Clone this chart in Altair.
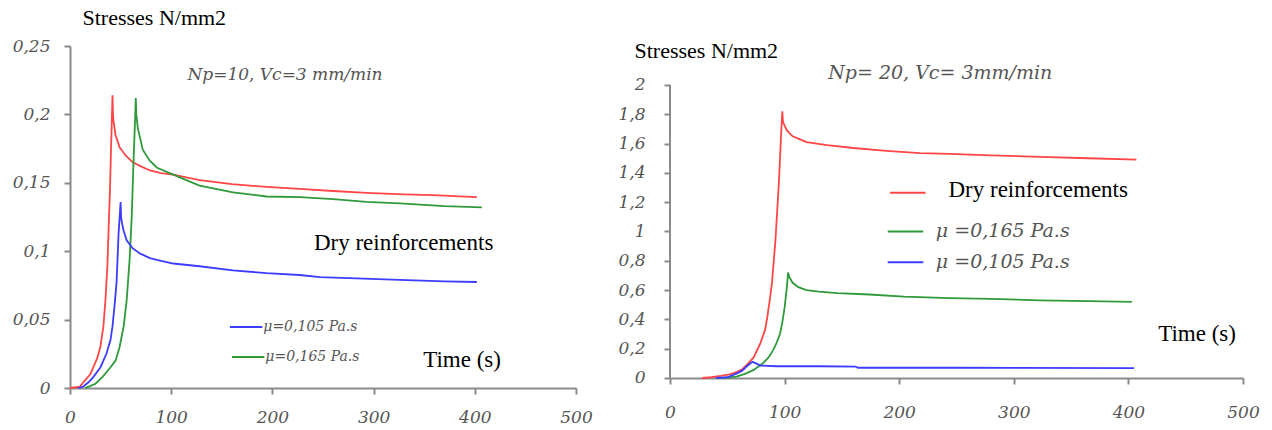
import altair as alt
import pandas as pd

# ---------------- Left panel (Np=10) ----------------
L_red_t = [0, 10, 13, 20, 23, 27, 30, 33, 35, 37, 38, 39.5, 40.5, 41.5, 42, 42.5, 43, 45, 49, 55, 62, 70, 79, 90, 102, 128, 160, 194, 227, 260, 293, 330, 359, 380, 402]
L_red_v = [0, 0.001, 0.004, 0.01, 0.015, 0.022, 0.030, 0.045, 0.064, 0.09, 0.113, 0.145, 0.174, 0.2, 0.214, 0.2, 0.195, 0.185, 0.176, 0.170, 0.165, 0.162, 0.159, 0.157, 0.156, 0.152, 0.149, 0.147, 0.1455, 0.144, 0.1426, 0.1415, 0.141, 0.1403, 0.1396]

L_blue_t = [8, 13, 18, 23, 30, 36, 40, 42, 44, 46, 48, 49.5, 50, 50.5, 51, 53, 56, 62, 70, 79, 90, 102, 128, 161, 194, 227, 247, 290, 326, 370, 402]
L_blue_v = [0, 0.001, 0.004, 0.008, 0.015, 0.025, 0.035, 0.045, 0.06, 0.077, 0.113, 0.13, 0.136, 0.125, 0.122, 0.115, 0.108, 0.102, 0.098, 0.095, 0.093, 0.091, 0.089, 0.086, 0.084, 0.0826, 0.081, 0.080, 0.079, 0.078, 0.0775]

L_green_t = [15, 25, 32, 39.5, 45, 49, 53, 56, 59, 61, 62.5, 64, 65, 65.5, 67, 72, 79, 86, 102, 128, 161, 194, 227, 260, 293, 326, 370, 407]
L_green_v = [0, 0.003, 0.008, 0.0146, 0.02, 0.030, 0.045, 0.064, 0.095, 0.125, 0.16, 0.19, 0.212, 0.2, 0.19, 0.174, 0.166, 0.161, 0.156, 0.148, 0.143, 0.140, 0.1395, 0.138, 0.136, 0.135, 0.133, 0.132]

# ---------------- Right panel (Np=20) ----------------
R_red_t = [28, 36, 44, 52, 58, 63, 67, 73, 79, 83, 85, 87, 89, 92, 95, 97, 98, 98.5, 99, 102, 107, 113, 119, 137, 160, 189, 218, 244, 280, 323, 365, 407]
R_red_v = [0, 0.005, 0.014, 0.025, 0.04, 0.06, 0.09, 0.14, 0.24, 0.33, 0.42, 0.53, 0.65, 0.94, 1.33, 1.67, 1.82, 1.76, 1.74, 1.69, 1.65, 1.63, 1.61, 1.59, 1.57, 1.55, 1.535, 1.53, 1.52, 1.51, 1.50, 1.49]

R_green_t = [40, 50, 58, 66, 73, 81, 86, 90, 93, 96, 98, 100, 102, 103, 104, 107, 112, 119, 130, 146, 174, 204, 244, 280, 323, 365, 403]
R_green_v = [0, 0.003, 0.01, 0.03, 0.055, 0.1, 0.14, 0.19, 0.24, 0.3, 0.38, 0.48, 0.62, 0.72, 0.69, 0.65, 0.62, 0.60, 0.59, 0.58, 0.57, 0.555, 0.545, 0.54, 0.53, 0.525, 0.52]

R_blue_t = [40, 50, 58, 63, 67, 72, 75, 79, 93, 130, 162, 164, 250, 405]
R_blue_v = [0, 0.005, 0.03, 0.05, 0.08, 0.11, 0.10, 0.085, 0.08, 0.08, 0.078, 0.07, 0.07, 0.068]

SERIES = ["Dry reinforcements", "mu=0,165", "mu=0,105"]
COLORS = ["#ff4646", "#2e9a3a", "#3c3cff"]

# axis ticks
L_yticks = [0, 0.05, 0.1, 0.15, 0.2, 0.25]
R_yticks = [0, 0.2, 0.4, 0.6, 0.8, 1, 1.2, 1.4, 1.6, 1.8, 2]
X_ticks = [0, 100, 200, 300, 400, 500]
R_ydomain = [-0.0683, 2.2662]
R_yline = [0, 2]

# annotations (data coordinates)
L_note_big_x = [241, 349]
L_note_big_y = [0.106, 0.0205]
L_note_big_txt = ["Dry reinforcements", "Time (s)"]

L_sub_x = [116]
L_sub_y = [0.229]
L_sub_txt = ["Np=10, Vc=3 mm/min"]

L_leg_x1 = [158, 160]
L_leg_x2 = [190, 192]
L_leg_y = [0.0446, 0.0227]
L_leg_s = ["mu=0,105", "mu=0,165"]
L_leg_tx = [191, 193]
L_leg_txt = ["\u03bc=0,105 Pa.s", "\u03bc=0,165 Pa.s"]

R_note_x = [426]
R_note_y = [0.30]
R_note_txt = ["Time (s)"]

R_sub_x = [138]
R_sub_y = [2.08]
R_sub_txt = ["Np= 20, Vc= 3mm/min"]

R_leg_x1 = [192, 190, 190]
R_leg_x2 = [223, 221, 221]
R_leg_y = [1.265, 1.0, 0.79]
R_leg_s = ["Dry reinforcements", "mu=0,165", "mu=0,105"]
R_leg_dry_x = [243]
R_leg_dry_y = [1.283]
R_leg_dry_txt = ["Dry reinforcements"]
R_leg_mu_x = [232, 232]
R_leg_mu_y = [1.0, 0.79]
R_leg_mu_txt = ["\u03bc =0,165 Pa.s", "\u03bc =0,105 Pa.s"]

SERIF = "Liberation Serif"
ITAL = "DejaVu Serif"
GRAY = "#555555"
AXGRAY = "#8a8a8a"

color_scale = alt.Scale(domain=SERIES, range=COLORS)


def lines_df(parts):
    frames = []
    for ts, vs, name in parts:
        frames.append(pd.DataFrame({"t": ts, "v": vs, "s": name}))
    return pd.concat(frames, ignore_index=True)


def make_axes(yticks, ytitle_x, ytitle_y, xpad, ypad, xoffset, ydomain_line):
    xa = alt.Axis(values=X_ticks, title=None, grid=False, labelFont=ITAL, labelFontStyle="italic",
                  labelFontSize=17, labelColor=GRAY, labelPadding=xpad, tickSize=6, tickColor=AXGRAY,
                  domainColor=AXGRAY, domainWidth=2, tickWidth=2, offset=xoffset, labelFlush=False,
                  labelOverlap=False)
    ya = alt.Axis(values=yticks, format="~g", grid=False, labelFont=ITAL, labelFontStyle="italic",
                  labelFontSize=17, labelColor=GRAY, labelPadding=ypad, tickSize=6, tickColor=AXGRAY,
                  domain=ydomain_line, domainColor=AXGRAY, domainWidth=2, tickWidth=2,
                  labelOverlap=False, labelFlush=False, labelBound=False,
                  labelExpr="replace(datum.label, '.', ',')",
                  title="Stresses N/mm2", titleAngle=0, titleAlign="left", titleBaseline="middle",
                  titleX=ytitle_x, titleY=ytitle_y, titleFont=SERIF, titleFontSize=22,
                  titleFontWeight="normal", titleColor="black")
    return xa, ya


def text_layer(xv, yv, txt, xs, ys, xa, ya, **kw):
    d = pd.DataFrame({"x": xv, "y": yv, "txt": txt})
    return alt.Chart(d).mark_text(**kw).encode(
        x=alt.X("x:Q", scale=xs, axis=xa), y=alt.Y("y:Q", scale=ys, axis=ya), text="txt:N")


def legend_rules(x1, x2, y, s, xs, ys, xa, ya):
    d = pd.DataFrame({"x1": x1, "x2": x2, "y": y, "s": s})
    return alt.Chart(d).mark_rule(strokeWidth=2).encode(
        x=alt.X("x1:Q", scale=xs, axis=xa), x2="x2:Q", y=alt.Y("y:Q", scale=ys, axis=ya),
        color=alt.Color("s:N", scale=color_scale, legend=None))


# ---- Left chart
lxs = alt.Scale(domain=[0, 500], nice=False)
lys = alt.Scale(domain=[0, 0.25], nice=False)
lxa, lya = make_axes(L_yticks, 12, -29, 15, 14, 0, True)
l_df = lines_df([(L_red_t, L_red_v, SERIES[0]), (L_green_t, L_green_v, SERIES[1]),
                 (L_blue_t, L_blue_v, SERIES[2])])
l_lines = alt.Chart(l_df).mark_line(strokeWidth=1.8).encode(
    x=alt.X("t:Q", scale=lxs, axis=lxa), y=alt.Y("v:Q", scale=lys, axis=lya),
    color=alt.Color("s:N", scale=color_scale, legend=None), detail="s:N")
l_big = text_layer(L_note_big_x, L_note_big_y, L_note_big_txt, lxs, lys, lxa, lya, align="left",
                   baseline="middle", font=SERIF, fontSize=23, color="black")
l_sub = text_layer(L_sub_x, L_sub_y, L_sub_txt, lxs, lys, lxa, lya, align="left", baseline="middle",
                   font=ITAL, fontSize=17, fontStyle="italic", color=GRAY)
l_leg = legend_rules(L_leg_x1, L_leg_x2, L_leg_y, L_leg_s, lxs, lys, lxa, lya)
l_leg_t = text_layer(L_leg_tx, L_leg_y, L_leg_txt, lxs, lys, lxa, lya, align="left", baseline="middle",
                     font=ITAL, fontSize=14, fontStyle="italic", color=GRAY)
left = alt.layer(l_lines, l_leg, l_big, l_sub, l_leg_t).properties(width=506, height=342)

# ---- Right chart
rxs = alt.Scale(domain=[0, 500], nice=False)
rys = alt.Scale(domain=R_ydomain, nice=False, zero=False)
rxa, rya = make_axes(R_yticks, -36, 4, 20, 19, -10, False)
r_df = lines_df([(R_red_t, R_red_v, SERIES[0]), (R_green_t, R_green_v, SERIES[1]),
                 (R_blue_t, R_blue_v, SERIES[2])])
r_lines = alt.Chart(r_df).mark_line(strokeWidth=1.8).encode(
    x=alt.X("t:Q", scale=rxs, axis=rxa), y=alt.Y("v:Q", scale=rys, axis=rya),
    color=alt.Color("s:N", scale=color_scale, legend=None), detail="s:N")
r_yaxis_line = alt.Chart(pd.DataFrame({"y1": [R_yline[0]], "y2": [R_yline[1]]})).mark_rule(
    color=AXGRAY, strokeWidth=2).encode(x=alt.value(0), y=alt.Y("y1:Q", scale=rys, axis=rya), y2="y2:Q")
r_note = text_layer(R_note_x, R_note_y, R_note_txt, rxs, rys, rxa, rya, align="left", baseline="middle",
                    font=SERIF, fontSize=23, color="black")
r_sub = text_layer(R_sub_x, R_sub_y, R_sub_txt, rxs, rys, rxa, rya, align="left", baseline="middle",
                   font=ITAL, fontSize=19, fontStyle="italic", color=GRAY)
r_leg = legend_rules(R_leg_x1, R_leg_x2, R_leg_y, R_leg_s, rxs, rys, rxa, rya)
r_leg_dry = text_layer(R_leg_dry_x, R_leg_dry_y, R_leg_dry_txt, rxs, rys, rxa, rya, align="left",
                       baseline="middle", font=SERIF, fontSize=23, color="black")
r_leg_mu = text_layer(R_leg_mu_x, R_leg_mu_y, R_leg_mu_txt, rxs, rys, rxa, rya, align="left",
                      baseline="middle", font=ITAL, fontSize=19, fontStyle="italic", color=GRAY)
right = alt.layer(r_lines, r_yaxis_line, r_leg, r_note, r_sub, r_leg_dry, r_leg_mu).properties(
    width=573, height=342)

chart = alt.hconcat(left, right, spacing=24).properties(
    padding={"left": 12, "top": 6, "right": 5, "bottom": 0}, background="white"
).configure_view(stroke=None)

chart.save("out.html", embed_options={"renderer": "svg", "actions": False})
